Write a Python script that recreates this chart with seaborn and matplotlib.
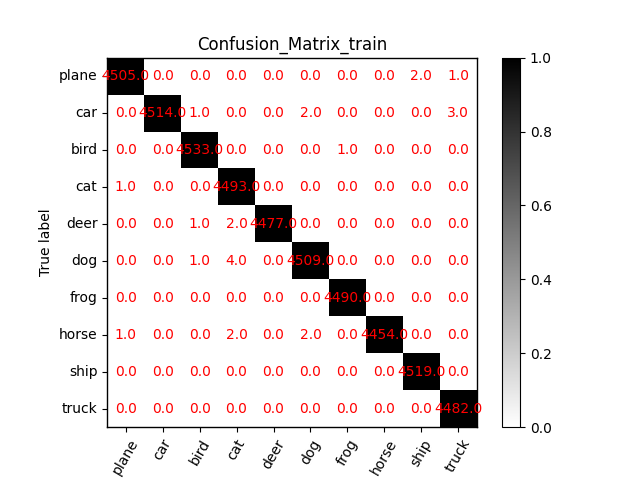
import matplotlib
matplotlib.use("Agg")
import matplotlib.pyplot as plt
import seaborn as sns
import numpy as np

classes = ['plane', 'car', 'bird', 'cat', 'deer', 'dog', 'frog', 'horse', 'ship', 'truck']

# raw counts, rows = true label, cols = predicted label
counts = np.array([
    [4505, 0, 0, 0, 0, 0, 0, 0, 2, 1],
    [0, 4514, 1, 0, 0, 2, 0, 0, 0, 3],
    [0, 0, 4533, 0, 0, 0, 1, 0, 0, 0],
    [1, 0, 0, 4493, 0, 0, 0, 0, 0, 0],
    [0, 0, 1, 2, 4477, 0, 0, 0, 0, 0],
    [0, 0, 1, 4, 0, 4509, 0, 0, 0, 0],
    [0, 0, 0, 0, 0, 0, 4490, 0, 0, 0],
    [1, 0, 0, 2, 0, 2, 0, 4454, 0, 0],
    [0, 0, 0, 0, 0, 0, 0, 0, 4519, 0],
    [0, 0, 0, 0, 0, 0, 0, 0, 0, 4482],
], dtype=float)

# colour by row-normalised share
shares = counts / counts.sum(axis=1, keepdims=True)

fig = plt.figure(figsize=(6.4, 4.8), dpi=100)
ax = fig.add_subplot(111)
sns.heatmap(shares, ax=ax, cmap='gray_r', vmin=0, vmax=1, square=True,
            annot=counts, fmt='.1f', annot_kws={'color': 'red', 'fontsize': 10},
            xticklabels=classes, yticklabels=classes, cbar=True)

for sp in ax.spines.values():
    sp.set_visible(True)
    sp.set_color('black')
    sp.set_linewidth(1.0)

cbar = ax.collections[0].colorbar
cbar.outline.set_visible(True)
cbar.outline.set_edgecolor('black')
cbar.outline.set_linewidth(0.8)
cbar.set_ticks([0.0, 0.2, 0.4, 0.6, 0.8, 1.0])

ax.tick_params(axis='both', length=3.5, width=0.8, color='black')
plt.setp(ax.get_xticklabels(), rotation=60, ha='center')
plt.setp(ax.get_yticklabels(), rotation=0)
ax.set_title('Confusion_Matrix_train')
ax.set_ylabel('True label')

fig.savefig('out.png', dpi=100)
